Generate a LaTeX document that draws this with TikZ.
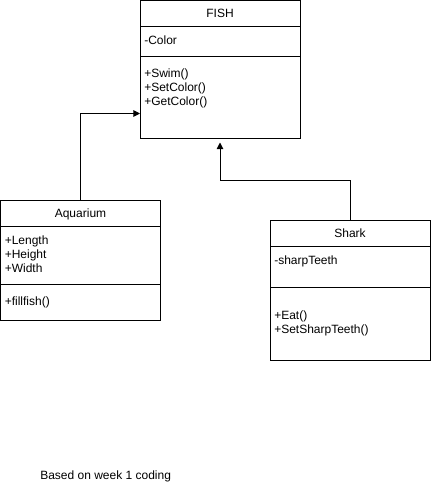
\documentclass[tikz,border=0pt]{standalone}
\usepackage{fontspec}
\setmainfont{Liberation Sans}
\usetikzlibrary{arrows.meta}
\tikzset{
  box/.style={draw, line width=0.75pt, minimum width=120pt, anchor=north west, inner sep=0pt, outer sep=0pt},
  title/.style={box, text depth=0pt},
  member/.style={anchor=base west, align=left, text width=110pt, inner sep=0pt},
  arr/.style={line width=0.75pt, -{Triangle[length=5pt,width=5pt]}}
}
\begin{document}
\begin{tikzpicture}[x=0.75pt, y=-0.75pt, font=\fontsize{9}{10.5}\selectfont]
  \useasboundingbox (0,0) rectangle (431,486);
  \node[title, minimum height=19.5pt] (fish) at (140,0.5) {FISH};
  \node[box, minimum height=22.5pt] (fishattr) at (fish.south west) {};
  \node[box, minimum height=61.5pt] (fishops) at (fishattr.south west) {};
  \node[member] (fishattrtext) at (144,44) {-Color};
  \node[member] (fishopstext) at (144,77) {+Swim()\\+SetColor()\\+GetColor()};
  \node[title, minimum height=19.5pt] (aqua) at (0.5,200) {Aquarium};
  \node[box, minimum height=43.5pt] (aquaattr) at (aqua.south west) {};
  \node[box, minimum height=27pt] (aquaops) at (aquaattr.south west) {};
  \node[member] (aquaattrtext) at (4.5,244) {+Length\\+Height\\+Width};
  \node[member] (aquaopstext) at (4.5,305) {+fillfish()};
  \node[title, minimum height=19.5pt] (shark) at (270,220) {Shark};
  \node[box, minimum height=30.75pt] (sharkattr) at (shark.south west) {};
  \node[box, minimum height=54.75pt] (sharkops) at (sharkattr.south west) {};
  \node[member] (sharkattrtext) at (274,264) {-sharpTeeth};
  \node[member] (sharkopstext) at (274,319) {+Eat()\\+SetSharpTeeth()};
  \node[anchor=base west, inner sep=0pt] (note) at (40,479) {Based on week 1 coding};
  \draw[arr] (aqua.north) |- ([yshift=-12pt]fishops.west);
  \draw[arr] (shark.north) -- ++(0,-40) -| ([yshift=-3pt]fishops.south);
\end{tikzpicture}
\end{document}
